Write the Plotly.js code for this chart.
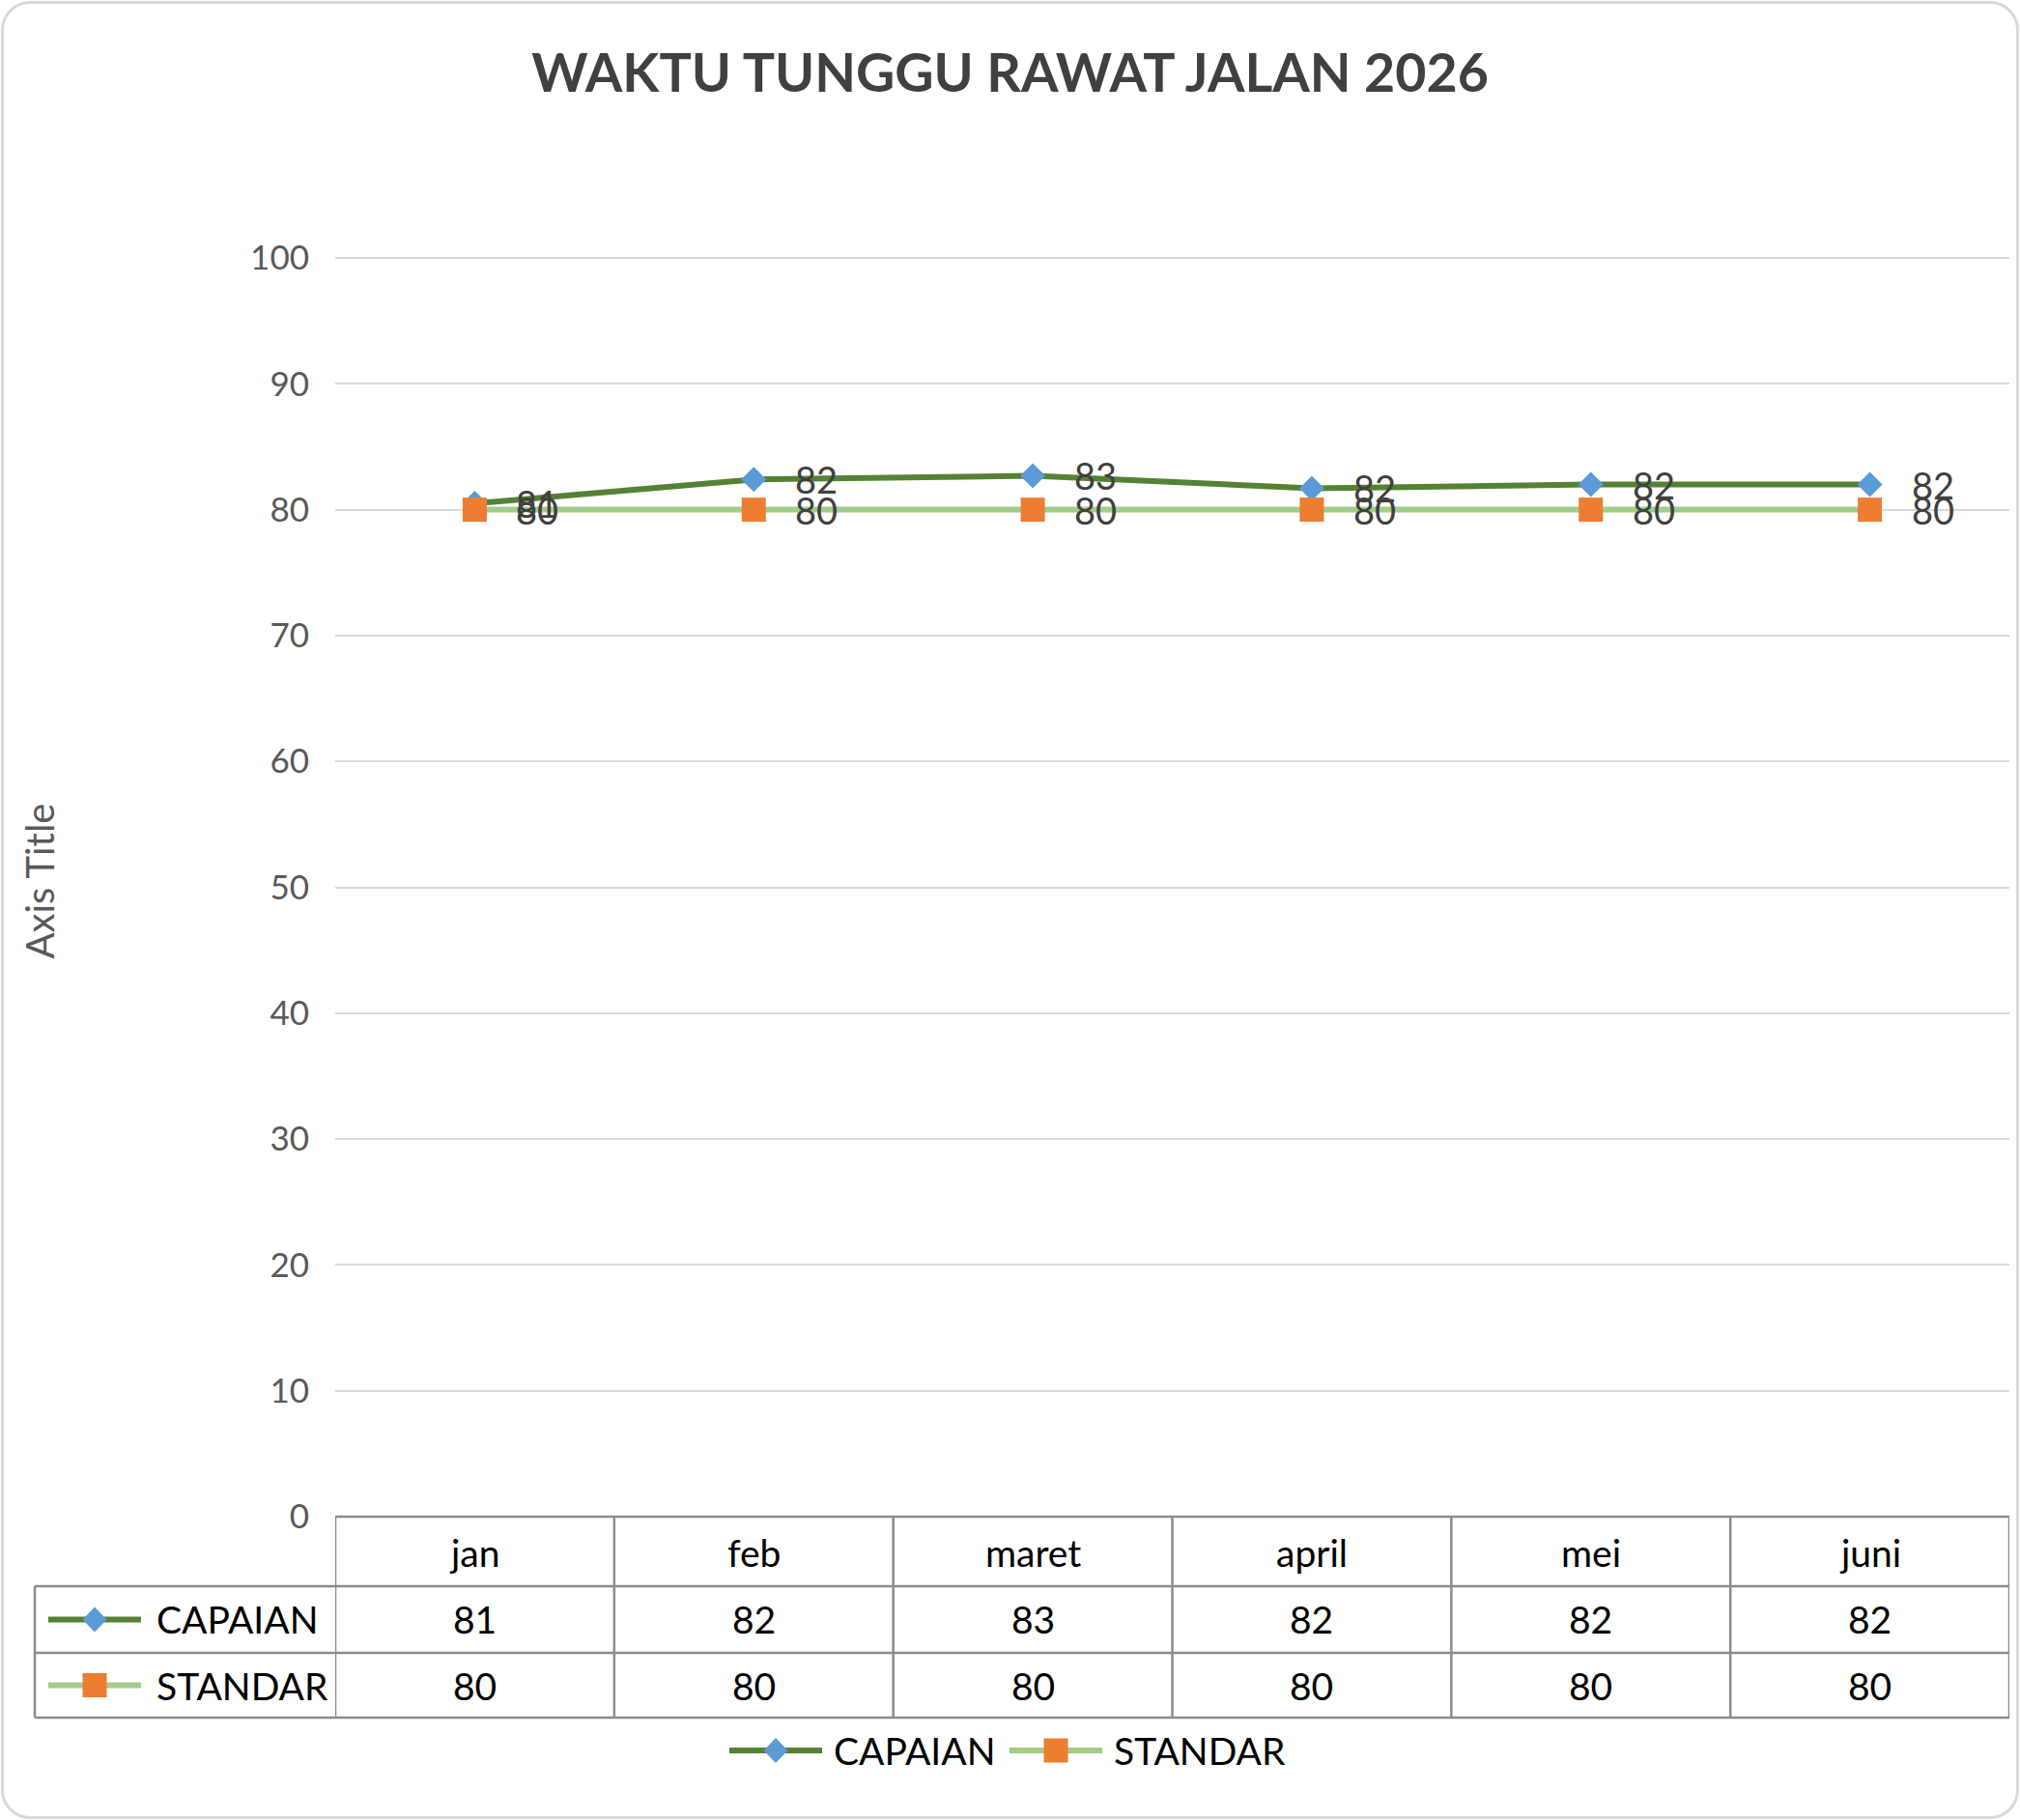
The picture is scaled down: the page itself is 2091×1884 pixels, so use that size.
<!DOCTYPE html>
<html>
<head>
<meta charset="utf-8">
<script src="https://cdn.plot.ly/plotly-3.0.1.min.js"></script>
<style>
body{margin:0;background:#fff;}
#wrap{position:relative;width:2091px;height:1884px;}
#frame{position:absolute;left:1px;top:1px;width:2083px;height:1876px;border:3px solid #d9d9d9;border-radius:30px;pointer-events:none;}
</style>
</head>
<body>
<div id="wrap">
<div id="chart" style="width:2091px;height:1884px;"></div>
<div id="frame"></div>
</div>
<script>
// data
var months = ['jan', 'feb', 'maret', 'april', 'mei', 'juni'];
var capaian = [80.5, 82.4, 82.7, 81.7, 82.0, 82.0];
var standar = [80, 80, 80, 80, 80, 80];
var seriesNames = ['CAPAIAN', 'STANDAR'];
var yTicks = [0, 10, 20, 30, 40, 50, 60, 70, 80, 90, 100];

var W = 2091, H = 1884;
var L = 347, R = 11, T = 254, B = 314;
var pw = W - L - R, ph = H - T - B;
function px(x){ return (x - L) / pw; }
function py(y){ return (H - B - y) / ph; }

var txtCol = '#404040';
var grid = '#8c8c8c';
var lineCols = ['#548235', '#a2cd88'];
var markCols = ['#5b9bd5', '#ed7d31'];

var trace1 = {
  x: months,
  y: capaian,
  name: seriesNames[0],
  type: 'scatter',
  mode: 'lines+markers',
  line: {color: lineCols[0], width: 6},
  marker: {symbol: 'diamond', size: 20, color: markCols[0]}
};
var trace2 = {
  x: months,
  y: standar,
  name: seriesNames[1],
  type: 'scatter',
  mode: 'lines+markers',
  line: {color: lineCols[1], width: 6},
  marker: {symbol: 'square', size: 25, color: markCols[1]}
};

var annotations = [];
var shapes = [];

// point labels
[capaian, standar].forEach(function(vals){
  vals.forEach(function(v, i){
    annotations.push({x: months[i], y: v, xref: 'x', yref: 'y', text: String(Math.round(v)),
      showarrow: false, xanchor: 'left', yanchor: 'middle', xshift: 41,
      font: {size: 38, color: txtCol}});
  });
});

// data table under the axis
var rowTop = 1570, rowHead = 1642, row1 = 1711, row2 = 1778, leftX = 36;
function label(x, xref, y, text, xa){
  annotations.push({x: x, y: py(y), xref: xref, yref: 'paper', text: text, showarrow: false,
    xanchor: xa || 'center', yanchor: 'middle', font: {size: 39, color: '#000'}});
}
months.forEach(function(m, i){
  label(m, 'x', (rowTop + rowHead) / 2 + 1, m);
  label(m, 'x', (rowHead + row1) / 2, String(Math.round(capaian[i])));
  label(m, 'x', (row1 + row2) / 2, String(Math.round(standar[i])));
});

function hline(y, x0){
  shapes.push({type: 'line', xref: 'paper', yref: 'paper', x0: px(x0), x1: 1, y0: py(y), y1: py(y),
    line: {color: grid, width: 2.5}});
}
hline(rowTop, L);
hline(rowHead, leftX);
hline(row1, leftX);
hline(row2, leftX);
shapes.push({type: 'line', xref: 'paper', yref: 'paper', x0: px(leftX), x1: px(leftX), y0: py(rowHead), y1: py(row2),
  line: {color: grid, width: 2.5}});
for (var i = -1; i < months.length; i++) {
  shapes.push({type: 'line', xref: 'x', yref: 'paper', x0: i + 0.5, x1: i + 0.5, y0: py(rowTop), y1: py(row2),
    line: {color: grid, width: 2.5}});
}

// series key: line + marker + name
function key(k, cx, cy, textX){
  shapes.push({type: 'line', xref: 'paper', yref: 'paper', x0: px(cx - 48), x1: px(cx + 48), y0: py(cy), y1: py(cy),
    line: {color: lineCols[k], width: 6}});
  if (k === 0) {
    shapes.push({type: 'path', xref: 'paper', yref: 'paper',
      path: 'M' + px(cx) + ',' + py(cy - 13) + ' L' + px(cx + 12.5) + ',' + py(cy) +
            ' L' + px(cx) + ',' + py(cy + 13) + ' L' + px(cx - 12.5) + ',' + py(cy) + ' Z',
      fillcolor: markCols[0], line: {width: 0}});
  } else {
    shapes.push({type: 'rect', xref: 'paper', yref: 'paper', x0: px(cx - 12.5), x1: px(cx + 12.5),
      y0: py(cy - 12.5), y1: py(cy + 12.5), fillcolor: markCols[1], line: {width: 0}});
  }
  label(px(textX), 'paper', cy, seriesNames[k], 'left');
}
key(0, 98, (rowHead + row1) / 2, 160);
key(1, 98, (row1 + row2) / 2, 160);
// legend below the table
key(0, 803, 1812, 861);
key(1, 1093, 1812, 1151);

var layout = {
  width: W, height: H,
  margin: {l: L, r: R, t: T, b: B},
  paper_bgcolor: '#fff', plot_bgcolor: '#fff',
  font: {family: 'Lato, "Open Sans", sans-serif', color: txtCol},
  title: {text: '<b>WAKTU TUNGGU RAWAT JALAN 2026</b>', x: 0.5, xref: 'container', y: 1 - 76 / H, yref: 'container',
    yanchor: 'middle', font: {size: 55.5, color: txtCol}},
  xaxis: {type: 'category', range: [-0.5, 5.5], showticklabels: false, showgrid: false, zeroline: false, showline: false, ticks: ''},
  yaxis: {range: [0, 101], tickvals: yTicks, showgrid: true, gridcolor: '#d9d9d9', gridwidth: 2,
    zeroline: false, showline: false, ticks: '', ticklabelstandoff: 26, tickfont: {size: 35, color: '#595959'},
    title: {text: 'Axis Title', standoff: 190, font: {size: 40, color: '#595959'}}},
  showlegend: false,
  annotations: annotations,
  shapes: shapes
};

Plotly.newPlot('chart', [trace1, trace2], layout, {displayModeBar: false});
</script>
</body>
</html>
